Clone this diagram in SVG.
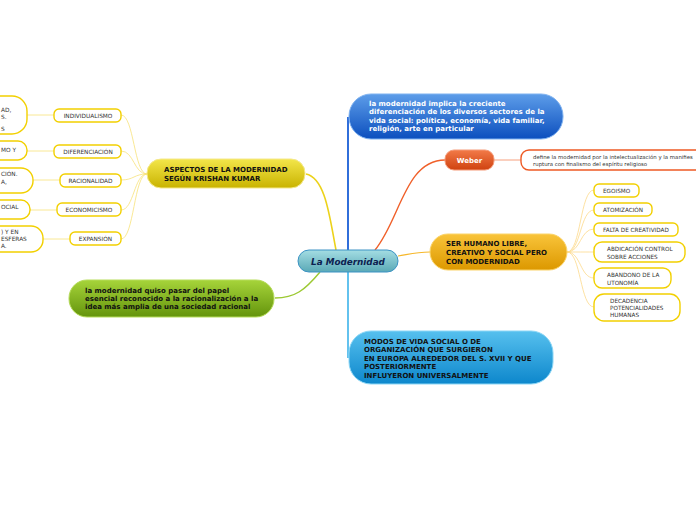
<svg xmlns="http://www.w3.org/2000/svg" width="696" height="520" viewBox="0 0 696 520">
<defs>
<linearGradient id="gYel" x1="0" y1="0" x2="0" y2="1"><stop offset="0" stop-color="#f3e64a"/><stop offset="1" stop-color="#c9b300"/></linearGradient>
<linearGradient id="gTeal" x1="0" y1="0" x2="0" y2="1"><stop offset="0" stop-color="#a4dde3"/><stop offset="1" stop-color="#5aa9b6"/></linearGradient>
<linearGradient id="gGreen" x1="0" y1="0" x2="0" y2="1"><stop offset="0" stop-color="#a6d43a"/><stop offset="1" stop-color="#64940c"/></linearGradient>
<linearGradient id="gBlue" x1="0" y1="0" x2="0" y2="1"><stop offset="0" stop-color="#5d9de9"/><stop offset="1" stop-color="#0c4fbe"/></linearGradient>
<linearGradient id="gRed" x1="0" y1="0" x2="0" y2="1"><stop offset="0" stop-color="#f27a48"/><stop offset="1" stop-color="#cf4210"/></linearGradient>
<linearGradient id="gOrange" x1="0" y1="0" x2="0" y2="1"><stop offset="0" stop-color="#f9c43a"/><stop offset="1" stop-color="#dc9800"/></linearGradient>
<linearGradient id="gCyan" x1="0" y1="0" x2="0" y2="1"><stop offset="0" stop-color="#56c0ee"/><stop offset="1" stop-color="#0d87cc"/></linearGradient>
</defs>
<style>
text{font-family:"DejaVu Sans","Liberation Sans",sans-serif}
.leaf{fill:#fff;stroke:#f2d000;stroke-width:1.4}
.lt{font-size:5.8px;fill:#333}
.rt{font-size:5.7px;fill:#333}
.bt{font-size:7px;font-weight:bold}
.cy{fill:none;stroke:#f7e27a;stroke-width:0.8}
.cr{fill:none;stroke:#fcd98a;stroke-width:0.8}
</style>
<g id="connectors">
<path d="M336,250 C330,220 326,178 306,174" fill="none" stroke="#ecd21a" stroke-width="1.6"/>
<path d="M320,272 C305,290 295,298 275,298" fill="none" stroke="#9cc932" stroke-width="1.4"/>
<path d="M375,250 C400,220 405,160 445,160" fill="none" stroke="#f0602a" stroke-width="1.4"/>
<path d="M348,250 L348,117" fill="none" stroke="#1a5fd6" stroke-width="1.8"/>
<path d="M348,272 L348,358" fill="none" stroke="#3db3ea" stroke-width="1.6"/>
<path d="M398,256 C410,254 416,252 430,252" fill="none" stroke="#f6b72a" stroke-width="1.2"/>
<path d="M494,160 L521,160" fill="none" stroke="#f6a07e" stroke-width="1"/>
<path class="cy" d="M147,174 C134,174 134,115 121,115"/>
<path class="cy" d="M147,174 C134,174 134,151 121,151"/>
<path class="cy" d="M147,174 C134,174 134,180 121,180"/>
<path class="cy" d="M147,174 C134,174 134,210 121,210"/>
<path class="cy" d="M147,174 C134,174 134,239 121,239"/>
<path class="cy" d="M54,115 L27,115"/>
<path class="cy" d="M54,151 L27,151"/>
<path class="cy" d="M60,180 L33,180"/>
<path class="cy" d="M57,210 L30,210"/>
<path class="cy" d="M70,239 L43,239"/>
<path class="cr" d="M567,252 C581,252 580,190 594,190"/>
<path class="cr" d="M567,252 C581,252 580,210 594,210"/>
<path class="cr" d="M567,252 C581,252 580,229 594,229"/>
<path class="cr" d="M567,252 C581,252 580,252 594,252"/>
<path class="cr" d="M567,252 C581,252 580,278 594,278"/>
<path class="cr" d="M567,252 C581,252 580,307 594,307"/>
</g>
<g id="cut1"><rect class="leaf" x="-30" y="96" width="57" height="38" rx="15"/><text class="lt" x="1" y="112">AD,</text><text class="lt" x="1" y="118.5">S.</text><text class="lt" x="1" y="131">S</text></g>
<g id="cut2"><rect class="leaf" x="-30" y="141" width="57" height="19" rx="9"/><text class="lt" x="1" y="152">MO Y</text></g>
<g id="cut3"><rect class="leaf" x="-30" y="168" width="63" height="25" rx="12"/><text class="lt" x="1" y="176">CIÓN.</text><text class="lt" x="1" y="184">A,</text></g>
<g id="cut4"><rect class="leaf" x="-30" y="200" width="60" height="19" rx="9"/><text class="lt" x="1" y="209">OCIAL</text></g>
<g id="cut5"><rect class="leaf" x="-30" y="226" width="73" height="26" rx="12"/><text class="lt" x="1" y="234">) Y EN</text><text class="lt" x="1" y="241">ESFERAS</text><text class="lt" x="1" y="248">A.</text></g>
<g id="individualismo"><rect class="leaf" x="54" y="109" width="67" height="13" rx="5"/><text class="lt" text-anchor="middle" x="88" y="117.6">INDIVIDUALISMO</text></g>
<g id="diferenciacion"><rect class="leaf" x="54" y="145" width="67" height="13" rx="5"/><text class="lt" text-anchor="middle" x="88" y="153.6">DIFERENCIACIÓN</text></g>
<g id="racionalidad"><rect class="leaf" x="60" y="174" width="61" height="13" rx="5"/><text class="lt" text-anchor="middle" x="90.5" y="182.6">RACIONALIDAD</text></g>
<g id="economicismo"><rect class="leaf" x="57" y="203" width="64" height="13" rx="5"/><text class="lt" text-anchor="middle" x="89" y="211.6">ECONOMICISMO</text></g>
<g id="expansion"><rect class="leaf" x="70" y="232" width="51" height="13" rx="5"/><text class="lt" text-anchor="middle" x="95.5" y="240.6">EXPANSIÓN</text></g>
<g id="aspectos"><rect x="147" y="159" width="158" height="29" rx="14" fill="url(#gYel)" stroke="#f5e88a" stroke-width="1"/><text class="bt" fill="#111" x="164" y="171.5">ASPECTOS DE LA MODERNIDAD</text><text class="bt" fill="#111" x="164" y="180.5">SEGÚN KRISHAN KUMAR</text></g>
<g id="central"><rect x="298" y="250" width="100" height="22" rx="11" fill="url(#gTeal)" stroke="#3c93c4" stroke-width="1"/><text x="348" y="264.5" text-anchor="middle" font-size="8.8" font-weight="bold" font-style="italic" fill="#0c2150">La Modernidad</text></g>
<g id="racional"><rect x="69" y="280" width="205" height="37" rx="18" fill="url(#gGreen)" stroke="#b6dc5a" stroke-width="1"/><text class="bt" fill="#111" x="85" y="292.5">la modernidad quiso pasar del papel</text><text class="bt" fill="#111" x="85" y="300.5">esencial reconocido a la racionalización a la</text><text class="bt" fill="#111" x="85" y="308.5">idea más amplia de una sociedad racional</text></g>
<g id="diferenciacion-social"><rect x="349" y="94" width="214" height="45" rx="22" fill="url(#gBlue)" stroke="#7fb2f0" stroke-width="1"/><text class="bt" fill="#fff" x="369" y="105.5">la modernidad implica la creciente</text><text class="bt" fill="#fff" x="369" y="114">diferenciación de los diversos sectores de la</text><text class="bt" fill="#fff" x="369" y="122.5">vida social: política, economía, vida familiar,</text><text class="bt" fill="#fff" x="369" y="131">religión, arte en particular</text></g>
<g id="weber"><rect x="445" y="150" width="49" height="20" rx="9" fill="url(#gRed)" stroke="#f59a78" stroke-width="1"/><text class="bt" fill="#fff" x="469.5" y="163" text-anchor="middle">Weber</text></g>
<g id="weber-def"><rect x="521" y="150" width="200" height="20" rx="8" fill="#fff" stroke="#ee5a24" stroke-width="1.4"/><text font-size="5.4px" fill="#333" x="533" y="158.5">define la modernidad por la intelectualización y la manifies</text><text font-size="5.4px" fill="#333" x="533" y="166">ruptura con finalismo del espíritu religioso</text></g>
<g id="ser-humano"><rect x="430" y="234" width="137" height="36" rx="18" fill="url(#gOrange)" stroke="#fbd46a" stroke-width="1"/><text class="bt" fill="#111" x="446" y="245.5">SER HUMANO LIBRE,</text><text class="bt" fill="#111" x="446" y="254.5">CREATIVO Y SOCIAL PERO</text><text class="bt" fill="#111" x="446" y="263.5">CON MODERNIDAD</text></g>
<g id="egoismo"><rect class="leaf" x="594" y="184" width="45" height="13" rx="5" stroke="#f7c31c"/><text class="rt" x="603" y="193">EGOISMO</text></g>
<g id="atomizacion"><rect class="leaf" x="594" y="203" width="58" height="13" rx="5" stroke="#f7c31c"/><text class="rt" x="603" y="212">ATOMIZACIÓN</text></g>
<g id="falta"><rect class="leaf" x="594" y="223" width="84" height="13" rx="5" stroke="#f7c31c"/><text class="rt" x="603" y="232">FALTA DE CREATIVIDAD</text></g>
<g id="abdicacion"><rect class="leaf" x="594" y="242" width="91" height="20" rx="8" stroke="#f7c31c"/><text class="rt" x="607" y="251">ABDICACIÓN CONTROL</text><text class="rt" x="607" y="258.5">SOBRE ACCIONES</text></g>
<g id="abandono"><rect class="leaf" x="594" y="268" width="77" height="20" rx="8" stroke="#f7c31c"/><text class="rt" x="607" y="277">ABANDONO DE LA</text><text class="rt" x="607" y="284.5">UTONOMÍA</text></g>
<g id="decadencia"><rect class="leaf" x="594" y="294" width="86" height="27" rx="10" stroke="#f7c31c"/><text class="rt" x="610" y="303">DECADENCIA</text><text class="rt" x="610" y="310">POTENCIALIDADES</text><text class="rt" x="610" y="317">HUMANAS</text></g>
<g id="modos"><rect x="349" y="331" width="204" height="53" rx="22" fill="url(#gCyan)" stroke="#8ad6f6" stroke-width="1"/><text class="bt" fill="#111" x="364" y="343.5">MODOS DE VIDA SOCIAL O DE</text><text class="bt" fill="#111" x="364" y="351.5">ORGANIZACIÓN QUE SURGIERON</text><text class="bt" fill="#111" x="364" y="360.5">EN EUROPA ALREDEDOR DEL S. XVII Y QUE</text><text class="bt" fill="#111" x="364" y="368.5">POSTERIORMENTE</text><text class="bt" fill="#111" x="364" y="377.5">INFLUYERON UNIVERSALMENTE</text></g>
</svg>
